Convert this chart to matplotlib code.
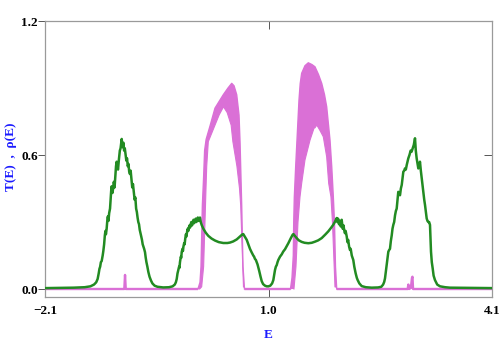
import numpy as np
import matplotlib
matplotlib.use("Agg")
import matplotlib.pyplot as plt

# ── density of states rho(E) ──
dos_E = [
    -2.10, -1.90, -1.70, -1.55, -1.47, -1.42, -1.39, -1.37, -1.355, -1.345,
    -1.335, -1.325, -1.314, -1.30, -1.291, -1.28, -1.27, -1.262, -1.255, -1.245,
    -1.235, -1.228, -1.22, -1.21, -1.198, -1.19, -1.182, -1.175, -1.165, -1.155,
    -1.145, -1.135, -1.125, -1.115, -1.106, -1.097, -1.087, -1.075, -1.062, -1.052,
    -1.044, -1.036, -1.028, -1.02, -1.012, -1.003, -0.993, -0.982, -0.972, -0.962,
    -0.952, -0.942, -0.932, -0.922, -0.912, -0.90, -0.89, -0.88, -0.868, -0.857,
    -0.847, -0.836, -0.826, -0.816, -0.806, -0.796, -0.786, -0.775, -0.765, -0.755,
    -0.745, -0.735, -0.725, -0.713, -0.703, -0.693, -0.68, -0.667, -0.65, -0.63,
    -0.61, -0.58, -0.54, -0.46, -0.38, -0.33, -0.30, -0.285, -0.273, -0.262,
    -0.251, -0.24, -0.235, -0.228, -0.216, -0.21, -0.204, -0.193, -0.187, -0.18,
    -0.17, -0.163, -0.155, -0.145, -0.139, -0.13, -0.12, -0.113, -0.105, -0.095,
    -0.088, -0.08, -0.07, -0.06, -0.05, -0.04, -0.03, -0.02, -0.01, 0.0,
    0.01, 0.02, 0.03, 0.04, 0.05, 0.06, 0.073, 0.096, 0.13, 0.165,
    0.21, 0.258, 0.31, 0.373, 0.43, 0.466, 0.51, 0.559, 0.605, 0.635,
    0.650, 0.665, 0.698, 0.72, 0.743, 0.765, 0.789, 0.80, 0.812, 0.825,
    0.836, 0.848, 0.86, 0.872, 0.89, 0.906, 0.925, 0.951, 0.975, 1.0,
    1.025, 1.05, 1.067, 1.08, 1.09, 1.102, 1.114, 1.125, 1.136, 1.16,
    1.183, 1.205, 1.229, 1.25, 1.275, 1.31, 1.335, 1.346, 1.36, 1.391,
    1.42, 1.46, 1.50, 1.552, 1.60, 1.645, 1.69, 1.738, 1.785, 1.829,
    1.87, 1.899, 1.92, 1.935, 1.946, 1.955, 1.965, 1.978, 1.99, 2.003,
    2.015, 2.03, 2.04, 2.051, 2.06, 2.07, 2.085, 2.095, 2.105, 2.118,
    2.13, 2.14, 2.155, 2.165, 2.176, 2.19, 2.20, 2.209, 2.225, 2.237,
    2.26, 2.293, 2.35, 2.431, 2.52, 2.565, 2.59, 2.605, 2.616, 2.628,
    2.639, 2.65, 2.662, 2.674, 2.685, 2.697, 2.709, 2.72, 2.731, 2.743,
    2.755, 2.767, 2.778, 2.79, 2.80, 2.812, 2.824, 2.836, 2.848, 2.86,
    2.870, 2.882, 2.893, 2.905, 2.917, 2.928, 2.939, 2.955, 2.972, 2.985,
    3.000, 3.015, 3.032, 3.043, 3.055, 3.067, 3.078, 3.09, 3.101, 3.113,
    3.125, 3.136, 3.147, 3.16, 3.171, 3.183, 3.194, 3.205, 3.216, 3.228,
    3.240, 3.247, 3.254, 3.265, 3.277, 3.29, 3.309, 3.34, 3.379, 3.45,
    3.517, 3.80, 4.10,
]
dos_rho = [
    0.004, 0.005, 0.006, 0.008, 0.012, 0.02, 0.03, 0.045, 0.07, 0.09,
    0.10, 0.12, 0.125, 0.15, 0.17, 0.20, 0.24, 0.26, 0.245, 0.27,
    0.31, 0.325, 0.305, 0.34, 0.36, 0.40, 0.44, 0.46, 0.43, 0.45,
    0.48, 0.455, 0.50, 0.55, 0.57, 0.545, 0.535, 0.58, 0.62, 0.63,
    0.65, 0.672, 0.645, 0.635, 0.655, 0.62, 0.63, 0.60, 0.575, 0.585,
    0.55, 0.56, 0.525, 0.515, 0.53, 0.49, 0.455, 0.47, 0.435, 0.40,
    0.41, 0.36, 0.345, 0.32, 0.30, 0.29, 0.265, 0.25, 0.235, 0.22,
    0.20, 0.19, 0.18, 0.165, 0.14, 0.12, 0.10, 0.077, 0.055, 0.038,
    0.025, 0.015, 0.01, 0.007, 0.008, 0.012, 0.02, 0.03, 0.045, 0.07,
    0.085, 0.10, 0.095, 0.12, 0.145, 0.14, 0.165, 0.18, 0.17, 0.19,
    0.205, 0.20, 0.225, 0.245, 0.235, 0.255, 0.27, 0.26, 0.275, 0.285,
    0.275, 0.29, 0.30, 0.285, 0.30, 0.31, 0.295, 0.305, 0.315, 0.30,
    0.31, 0.32, 0.305, 0.315, 0.32, 0.30, 0.287, 0.27, 0.252, 0.238,
    0.226, 0.217, 0.21, 0.206, 0.206, 0.208, 0.213, 0.222, 0.235, 0.244,
    0.246, 0.238, 0.22, 0.20, 0.18, 0.165, 0.15, 0.145, 0.135, 0.13,
    0.12, 0.11, 0.095, 0.08, 0.055, 0.035, 0.022, 0.015, 0.012, 0.012,
    0.015, 0.025, 0.04, 0.065, 0.085, 0.10, 0.107, 0.12, 0.13, 0.145,
    0.155, 0.168, 0.178, 0.19, 0.205, 0.228, 0.243, 0.246, 0.24, 0.228,
    0.218, 0.211, 0.207, 0.205, 0.207, 0.212, 0.218, 0.228, 0.243, 0.258,
    0.275, 0.288, 0.30, 0.31, 0.318, 0.30, 0.315, 0.29, 0.305, 0.28,
    0.31, 0.27, 0.285, 0.262, 0.25, 0.26, 0.235, 0.21, 0.22, 0.19,
    0.175, 0.18, 0.15, 0.14, 0.13, 0.10, 0.085, 0.07, 0.05, 0.04,
    0.025, 0.013, 0.008, 0.006, 0.007, 0.01, 0.02, 0.032, 0.048, 0.08,
    0.107, 0.14, 0.167, 0.175, 0.18, 0.215, 0.24, 0.27, 0.287, 0.30,
    0.33, 0.35, 0.36, 0.40, 0.435, 0.425, 0.42, 0.45, 0.466, 0.50,
    0.525, 0.53, 0.54, 0.535, 0.555, 0.57, 0.585, 0.60, 0.62, 0.615,
    0.63, 0.645, 0.675, 0.62, 0.585, 0.56, 0.54, 0.555, 0.57, 0.53,
    0.496, 0.465, 0.435, 0.40, 0.376, 0.345, 0.316, 0.305, 0.30, 0.30,
    0.287, 0.23, 0.167, 0.12, 0.093, 0.06, 0.04, 0.02, 0.012, 0.008,
    0.006, 0.005, 0.004,
]

# ── transmission T(E): zero line with two tiny spikes (gaps = the bands) ──
T_E = [-2.10, -1.00, -0.99, -0.98, 0.022, np.nan,
       0.667, 1.305, np.nan,
       1.946, 2.93, 2.94, 2.95, 2.975, 2.99, 2.997, 3.005, 4.10]
T_val = [0.0, 0.0, 0.063, 0.0, 0.0, np.nan,
         0.0, 0.0, np.nan,
         0.0, 0.0, 0.02, 0.0, 0.005, 0.05, 0.055, 0.0, 0.0]

# the two rapidly oscillating bands: outer and inner envelope of T(E)
band1_outer_E = [0.022, 0.050, 0.064, 0.083, 0.100, 0.114, 0.135, 0.189, 0.258, 0.373,
                 0.438, 0.490, 0.522, 0.559, 0.591, 0.605, 0.628, 0.646, 0.667]
band1_outer_T = [0.0, 0.03, 0.10, 0.376, 0.50, 0.62, 0.67, 0.73, 0.81, 0.87,
                 0.90, 0.921, 0.91, 0.87, 0.779, 0.66, 0.376, 0.10, 0.0]
band1_inner_E = [0.653, 0.614, 0.598, 0.562, 0.506, 0.482, 0.427, 0.376, 0.316, 0.258,
                 0.165, 0.143, 0.133, 0.119, 0.100, 0.073, 0.045]
band1_inner_T = [0.01, 0.376, 0.45, 0.55, 0.66, 0.734, 0.79, 0.816, 0.78, 0.734,
                 0.66, 0.55, 0.45, 0.30, 0.10, 0.01, 0.0]

band2_outer_E = [1.305, 1.326, 1.344, 1.350, 1.358, 1.377, 1.400, 1.423, 1.440, 1.460,
                 1.506, 1.552, 1.603, 1.645, 1.694, 1.738, 1.777, 1.807, 1.853, 1.877,
                 1.899, 1.915, 1.929, 1.946]
band2_outer_T = [0.0, 0.05, 0.15, 0.30, 0.41, 0.548, 0.697, 0.846, 0.92, 0.966,
                 1.0, 1.013, 1.005, 0.995, 0.96, 0.921, 0.87, 0.816, 0.667, 0.548,
                 0.413, 0.30, 0.10, 0.0]
band2_inner_E = [1.922, 1.887, 1.866, 1.835, 1.807, 1.760, 1.714, 1.687, 1.669, 1.645,
                 1.631, 1.576, 1.506, 1.460, 1.437, 1.409, 1.381, 1.353]
band2_inner_T = [0.01, 0.30, 0.413, 0.473, 0.592, 0.682, 0.71, 0.725, 0.734, 0.722,
                 0.72, 0.667, 0.578, 0.473, 0.413, 0.30, 0.10, 0.0]

xticks = [-2.1, 1.0, 4.1]
yticks = [0.0, 0.6, 1.2]

GREEN = "#228B22"
ORCHID = "#DA70D6"
FRAME = "#9a9a9a"

fig = plt.figure(figsize=(5, 3.45), dpi=100)
ax = fig.add_axes([0.09, 0.139, 0.894, 0.800])

for oE, oT, iE, iT in [(band1_outer_E, band1_outer_T, band1_inner_E, band1_inner_T),
                       (band2_outer_E, band2_outer_T, band2_inner_E, band2_inner_T)]:
    ax.fill(oE + iE, oT + iT, color=ORCHID, lw=0, zorder=2)
    ax.plot(oE, oT, color=ORCHID, lw=1.0, zorder=2)
    ax.plot(iE, iT, color=ORCHID, lw=0.8, zorder=2)

ax.plot(T_E, T_val, color=ORCHID, lw=1.7, zorder=2, solid_capstyle="butt")
ax.plot(dos_E, dos_rho, color=GREEN, lw=1.8, zorder=3)

ax.set_xlim(-2.1, 4.1)
ax.set_ylim(-0.036, 1.2)
ax.set_xticks(xticks)
ax.set_yticks(yticks)
ax.set_xticklabels([f"{v:.1f}".replace("-", "\u2212") for v in xticks])
ax.set_yticklabels([f"{v:.1f}" for v in yticks])

for sp in ax.spines.values():
    sp.set_color(FRAME)
    sp.set_linewidth(0.9)

tick_font = dict(family="Liberation Serif", weight="bold", size=9.5)
ax.tick_params(axis="x", direction="in", length=6, width=0.7, color="#555555",
               pad=5.5, top=True)
ax.tick_params(axis="y", direction="out", length=5, width=0.7, color="#555555",
               pad=0)
ax.tick_params(axis="y", which="major", right=True)
for lab in ax.get_xticklabels() + ax.get_yticklabels():
    lab.set_fontproperties(matplotlib.font_manager.FontProperties(**tick_font))

# right-hand ticks point inward
for t in ax.yaxis.get_major_ticks():
    t.tick2line.set_marker(matplotlib.lines.TICKLEFT)
    t.tick2line.set_markersize(6)

label_font = dict(family="Liberation Serif", weight="bold", size=9.5, color="#1a1aff")
fig.text(11 / 500, 1 - 157 / 345, "T(E)  ,  \u03c1(E)", rotation=90,
         ha="center", va="center", **label_font)
fig.text(268 / 500, 1 - 335 / 345, "E", ha="center", va="center", **label_font)

fig.savefig("out.png", dpi=100)
